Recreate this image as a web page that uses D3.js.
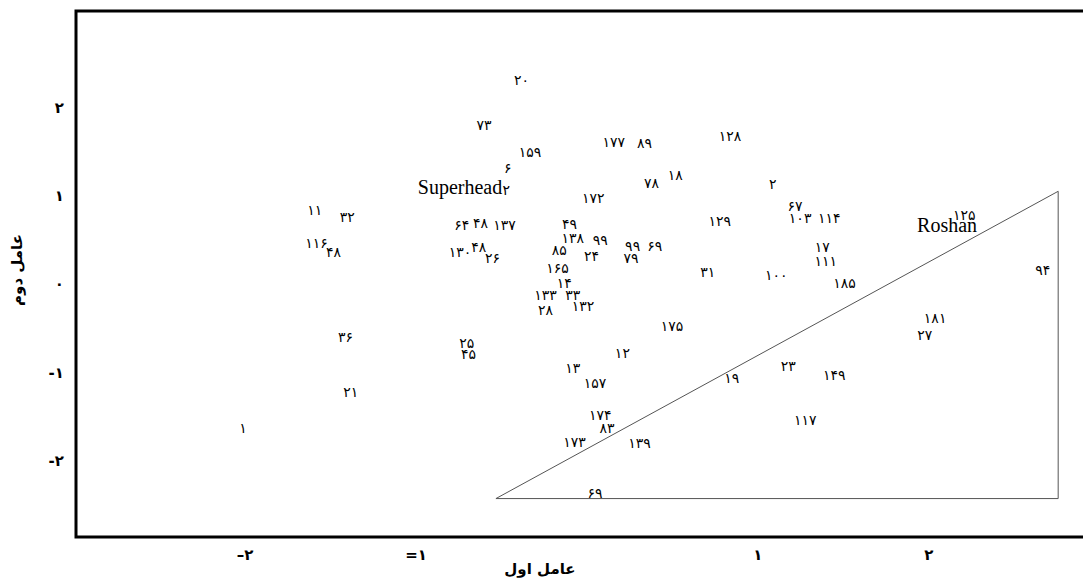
<!DOCTYPE html>
<html><head><meta charset="utf-8">
<script src="https://cdn.jsdelivr.net/npm/d3@7"></script>
<style>
html,body{margin:0;padding:0;background:#fff;}
svg{display:block;}
</style></head>
<body>
<svg id="chart" width="1083" height="584"></svg>
<script>
// ---- data ----
const labels = ["۲۰","۷۳","۱۵۹","۱۷۷","۸۹","۱۲۸","۶","۲","۷۸","۱۸","۲","۱۷۲","۶۷","۱۱","۳۲","۶۴","۴۸","۱۳۷","۴۹","۱۳۸","۹۹","۸۵","۲۴","۱۲۹","۱۰۳","۱۱۴","۱۲۵","۱۱۶","۴۸","۱۳۰","۴۸","۲۶","۹۹","۶۹","۷۹","۱۶۵","۳۱","۱۰۰","۱۷","۱۱۱","۱۸۵","۹۴","۱۴","۱۳۳","۳۳","۲۸","۱۳۲","۱۷۵","۱۸۱","۲۷","۳۶","۲۵","۴۵","۱۲","۱۳","۱۵۷","۱۹","۲۳","۱۴۹","۲۱","۱","۱۷۴","۸۳","۱۷۳","۱۳۹","۱۱۷","۶۹"];
const factor1 = [-0.38,-0.60,-0.33,0.16,0.34,0.84,-0.46,-0.47,0.38,0.52,1.09,0.04,1.22,-1.59,-1.40,-0.73,-0.62,-0.48,-0.10,-0.08,0.08,-0.16,0.03,0.78,1.25,1.42,2.21,-1.58,-1.48,-0.74,-0.63,-0.55,0.27,0.40,0.26,-0.17,0.71,1.11,1.38,1.40,1.51,2.67,-0.13,-0.24,-0.08,-0.24,-0.02,0.50,2.04,1.98,-1.41,-0.70,-0.69,0.21,-0.08,0.05,0.85,1.18,1.45,-1.38,-2.01,0.08,0.12,-0.07,0.31,1.28,0.05];
const factor2 = [2.31,1.80,1.49,1.61,1.60,1.68,1.31,1.06,1.14,1.23,1.13,0.97,0.88,0.84,0.76,0.67,0.69,0.67,0.68,0.52,0.50,0.39,0.32,0.71,0.75,0.75,0.78,0.46,0.36,0.36,0.42,0.29,0.43,0.43,0.29,0.18,0.14,0.10,0.42,0.26,0.01,0.16,0.01,-0.12,-0.12,-0.29,-0.25,-0.48,-0.39,-0.58,-0.60,-0.67,-0.79,-0.78,-0.95,-1.12,-1.06,-0.93,-1.03,-1.22,-1.63,-1.48,-1.63,-1.79,-1.80,-1.54,-2.37];

const groupNames = ["Superhead","Roshan"];
const groupX = [-0.74, 2.11];
const groupY = [1.10, 0.67];

const triangleX = [-0.53, 2.76, 2.76];
const triangleY = [-2.43, 1.05, -2.43];

const xTickValues = [-2,-1,1,2];
const xTickLabels = ["–۲","=۱","۱","۲"];
const yTickValues = [2,1,0,-1,-2];
const yTickLabels = ["۲","۱","۰","-۱","-۲"];
const xTitle = "عامل اول";
const yTitle = "عامل دوم";

// ---- layout ----
const W = 1083, H = 584;
const frameLeft = 76, frameTop = 11, frameBottom = 537;

const svg = d3.select("#chart");
const x = d3.scaleLinear().domain([-2,2]).range([244.7, 928.3]);
const y = d3.scaleLinear().domain([-2,2]).range([460.6, 107.4]);

// frame (open on the right)
svg.append("path")
  .attr("d", `M${W+5},${frameTop}H${frameLeft}V${frameBottom}H${W+5}`)
  .attr("fill","none").attr("stroke","#000").attr("stroke-width",3);

// triangle
const tri = triangleX.map((d,i)=>[x(d), y(triangleY[i])]);
svg.append("path")
  .attr("d", d3.line()(tri) + "Z")
  .attr("fill","none").attr("stroke","#555").attr("stroke-width",1);

// axes
const yAxis = d3.axisLeft(y).tickValues(yTickValues)
  .tickFormat((d,i)=>yTickLabels[i]).tickSize(0).tickPadding(12);
const gy = svg.append("g").attr("transform",`translate(${frameLeft},0)`).call(yAxis);
gy.select(".domain").remove();
gy.selectAll("text").attr("font-family","'DejaVu Sans', sans-serif").attr("font-size",15).attr("font-weight","bold").attr("fill","#000");

const xAxis = d3.axisBottom(x).tickValues(xTickValues)
  .tickFormat((d,i)=>xTickLabels[i]).tickSize(0).tickPadding(12);
const gx = svg.append("g").attr("transform",`translate(0,${frameBottom})`).call(xAxis);
gx.select(".domain").remove();
gx.selectAll("text").attr("font-family","'DejaVu Sans', sans-serif").attr("font-size",15).attr("font-weight","bold").attr("fill","#000");

// axis titles
svg.append("text").attr("x",540).attr("y",574).attr("text-anchor","middle")
  .attr("font-family","'DejaVu Sans', sans-serif").attr("font-size",15).attr("font-weight","bold")
  .attr("direction","rtl").text(xTitle);
svg.append("text").attr("transform","translate(22,270) rotate(-90)").attr("text-anchor","middle")
  .attr("font-family","'DejaVu Sans', sans-serif").attr("font-size",15).attr("font-weight","bold")
  .attr("direction","rtl").text(yTitle);

// point labels
svg.append("g").selectAll("text").data(labels).join("text")
  .attr("x",(d,i)=>x(factor1[i]))
  .attr("y",(d,i)=>y(factor2[i]))
  .attr("text-anchor","middle").attr("dominant-baseline","central")
  .attr("font-family","'DejaVu Sans', sans-serif").attr("font-size",14)
  .attr("fill","#000")
  .text(d=>d);

// group names
svg.append("g").selectAll("text").data(groupNames).join("text")
  .attr("x",(d,i)=>x(groupX[i]))
  .attr("y",(d,i)=>y(groupY[i]))
  .attr("text-anchor","middle").attr("dominant-baseline","central")
  .attr("font-family","'Liberation Serif', serif").attr("font-size",20)
  .attr("fill","#000")
  .text(d=>d);
</script>
</body></html>
